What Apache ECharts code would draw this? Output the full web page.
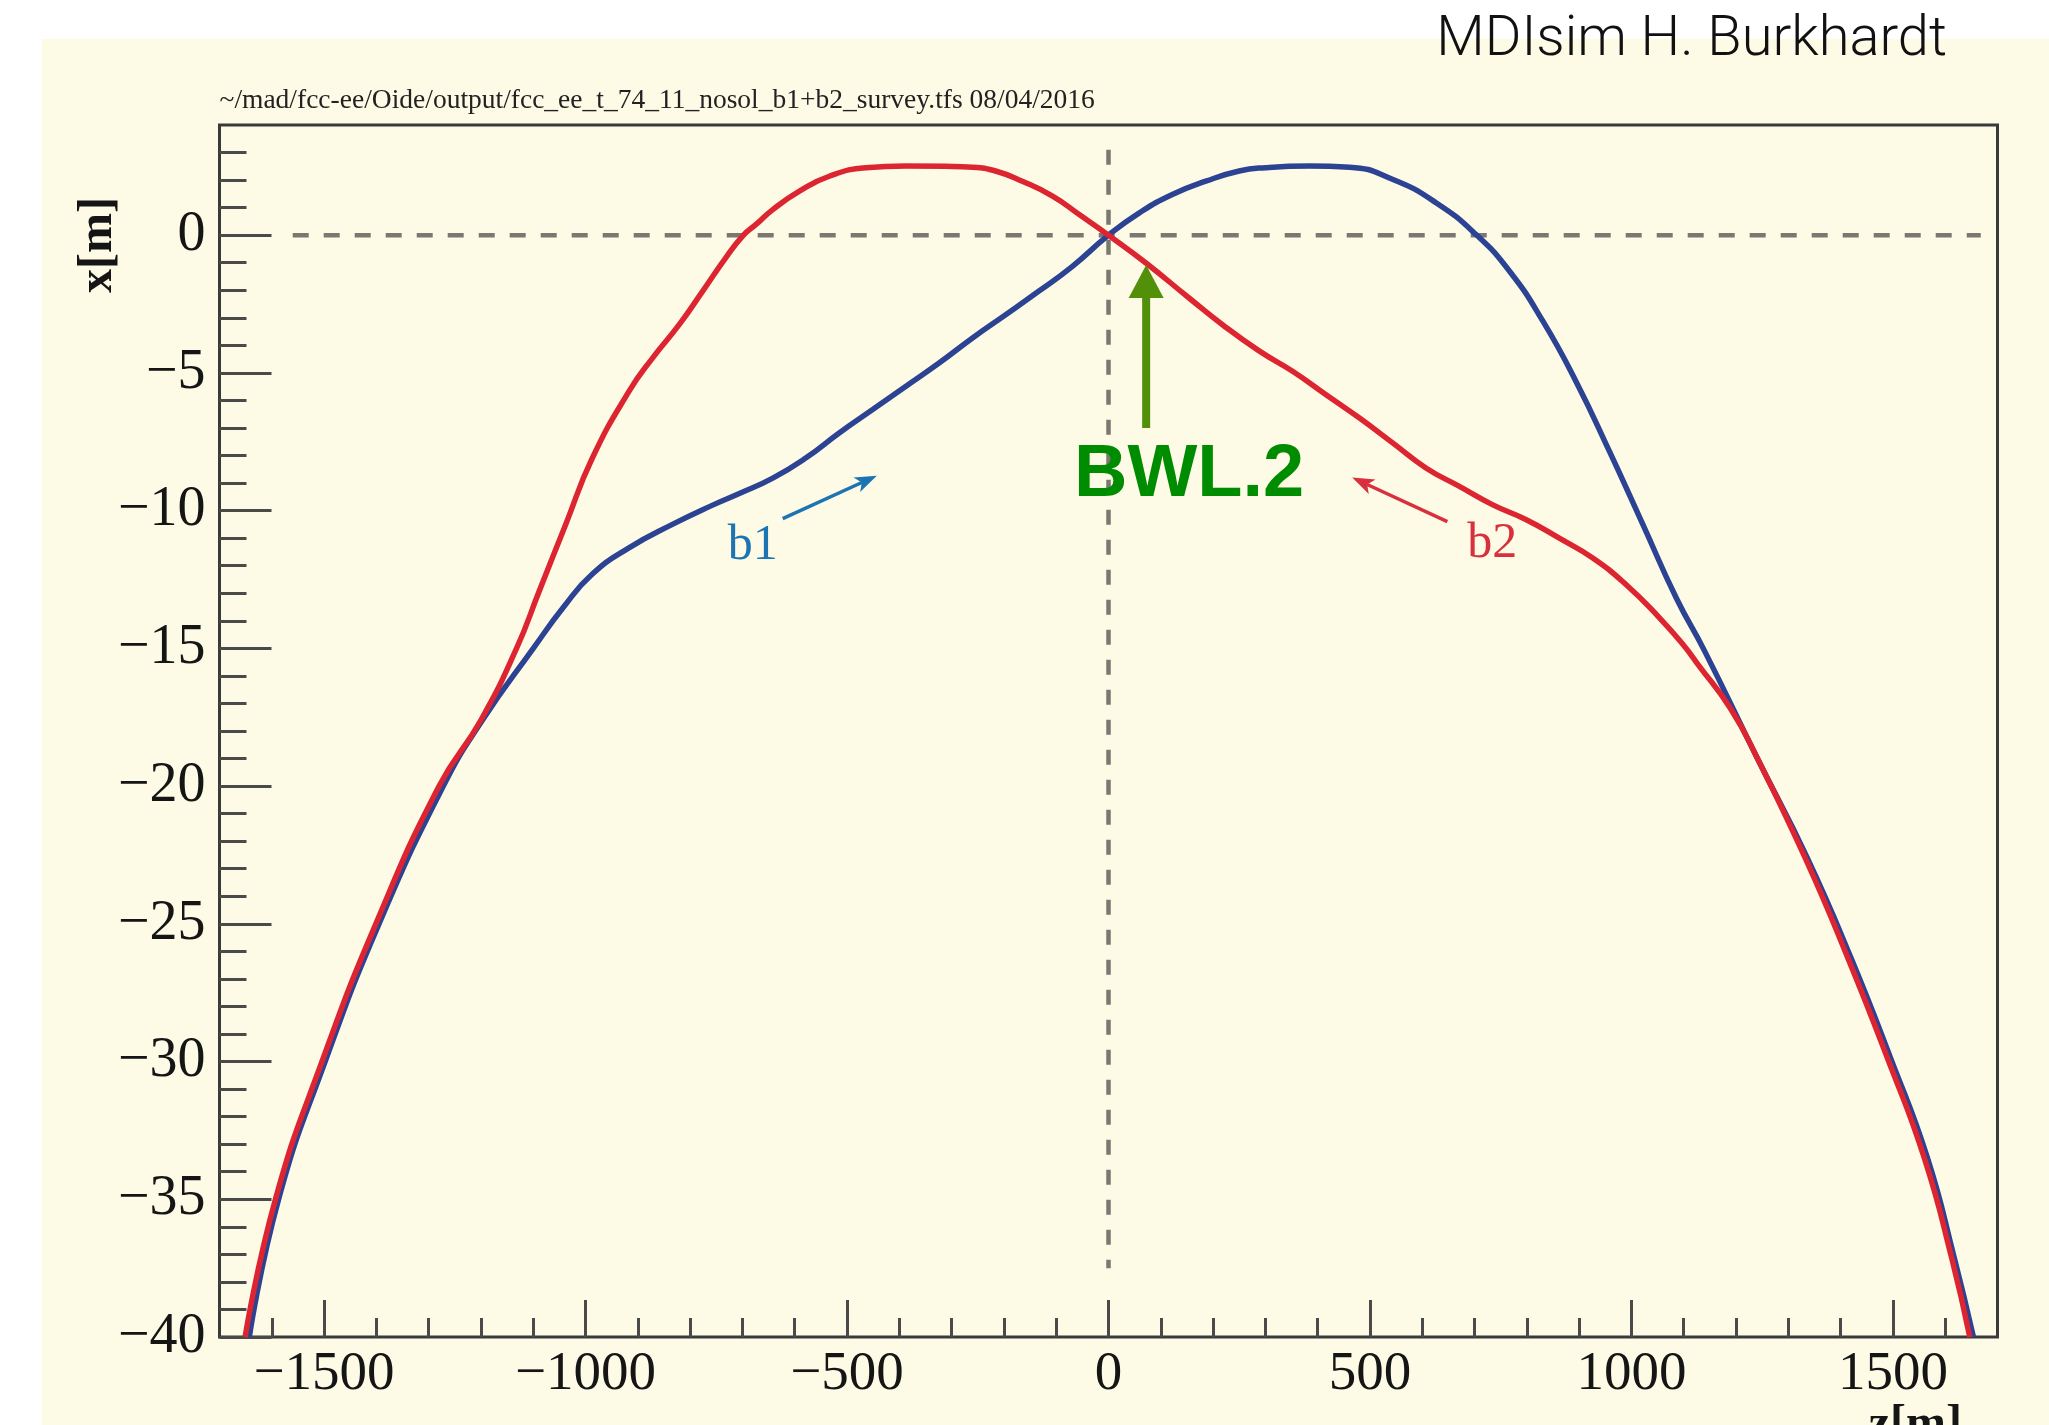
<!DOCTYPE html>
<html><head><meta charset="utf-8">
<script src="https://cdn.jsdelivr.net/npm/echarts@6/dist/echarts.min.js"></script>
<style>
html,body{margin:0;padding:0;background:#ffffff;overflow:hidden;}
#wrap{position:relative;width:2049px;height:1425px;background:#ffffff;}
#cream{position:absolute;left:42px;top:39px;right:0;bottom:0;background:#fdfae6;}
#c{position:absolute;left:0;top:0;width:2049px;height:1425px;}
</style>
</head><body>
<div id="wrap"><div id="cream"></div><div id="c"></div></div>
<script>
// ---- data ----
const b1 = [[-1643,-40],[-1587,-35],[-1498,-30],[-1395,-25],[-1272,-20],[-1197,-17.6],[-1100,-15],[-1042,-13.5],[-987,-12.3],[-917,-11.35],[-834,-10.5],[-757,-9.8],[-706,-9.38],[-642,-8.82],[-579,-8.09],[-515,-7.18],[-451,-6.33],[-388,-5.49],[-324,-4.64],[-260,-3.73],[-196,-2.88],[-133,-2.03],[-69,-1.13],[0,0],[59,0.81],[122,1.48],[186,1.96],[250,2.33],[300,2.45],[384,2.51],[461,2.47],[544,2.02],[627,1.17],[703,0.02],[767,-1.31],[831,-3.13],[894,-5.31],[958,-7.85],[1022,-10.51],[1086,-13.18],[1140,-15.1],[1241,-19.0],[1336,-22.6],[1419,-26.2],[1496,-29.9],[1566,-33.5],[1617,-37.1],[1654,-40]];
const b2 = [[-1651,-40],[-1593,-35],[-1504,-30],[-1401,-25],[-1280,-20],[-1200,-17.6],[-1132,-15],[-1089,-12.94],[-1038,-10.5],[-987,-8.09],[-917,-5.67],[-872,-4.46],[-821,-3.25],[-776,-2.03],[-732,-0.82],[-698,0],[-674,0.39],[-642,0.93],[-591,1.6],[-534,2.14],[-464,2.45],[-388,2.51],[-311,2.5],[-260,2.47],[-216,2.33],[-165,1.96],[-107,1.42],[-56,0.75],[0,0],[71,-1.0],[154,-2.28],[218,-3.25],[288,-4.2],[352,-4.94],[416,-5.79],[480,-6.64],[544,-7.55],[607,-8.45],[671,-9.12],[735,-9.79],[799,-10.33],[862,-11.0],[926,-11.72],[990,-12.69],[1054,-13.9],[1099,-14.87],[1126,-15.55],[1190,-17.2],[1241,-19.0],[1332,-22.6],[1413,-26.2],[1490,-29.9],[1560,-33.5],[1612,-37.1],[1647,-40]];
const zeroLineH = [[-1560,0],[1668,0]];
const zeroLineV = [[0,3.1],[0,-37.5]];
const xMajorTicks = [-1500,-1000,-500,0,500,1000,1500];
const xMinorTicks = [-1600,-1400,-1300,-1200,-1100,-900,-800,-700,-600,-400,-300,-200,-100,100,200,300,400,600,700,800,900,1100,1200,1300,1400,1600];
const yMajorTicks = [-40,-35,-30,-25,-20,-15,-10,-5,0];
const yMinorTicks = [3,2,1,-1,-2,-3,-4,-6,-7,-8,-9,-11,-12,-13,-14,-16,-17,-18,-19,-21,-22,-23,-24,-26,-27,-28,-29,-31,-32,-33,-34,-36,-37,-38,-39];
const fileTitle = '~/mad/fcc-ee/Oide/output/fcc_ee_t_74_11_nosol_b1+b2_survey.tfs 08/04/2016';
const authorText = 'MDIsim H. Burkhardt';
const yTitle = 'x[m]';
const xTitle = 'z[m]';
const b1Label = 'b1', b2Label = 'b2', bwlLabel = 'BWL.2';

// annotation anchors (data coordinates)
const b1ArrowFrom = [-623,-10.29], b1ArrowTo = [-443,-8.73];
const b2ArrowFrom = [648,-10.4], b2ArrowTo = [466,-8.8];
const bwlArrowFrom = [72,-7.0], bwlArrowTo = [72,-1.08];
const b1LabelAt = [-728,-12.18], b2LabelAt = [686,-12.1], bwlLabelAt = [-66,-10.07];

const minus = v => String(v).replace('-', '\u2212');
const tickColor = '#4a4a48';
const noLine = {show:false, onZero:false};

const chart = echarts.init(document.getElementById('c'), null, {renderer:'canvas'});
const option = {
  animation:false,
  backgroundColor:'transparent',
  grid:{left:219.5, right:51.5, top:125, bottom:88, show:true, borderColor:'#3a3a3a', borderWidth:3, backgroundColor:'#fdfae6'},
  xAxis:[
    {type:'value', min:-1700, max:1700, position:'bottom',
     axisLine:noLine, splitLine:{show:false},
     axisTick:{show:true, inside:true, length:37, customValues:xMajorTicks, lineStyle:{color:tickColor, width:3}},
     axisLabel:{show:true, customValues:xMajorTicks, formatter:minus, fontFamily:'Liberation Serif', fontSize:55, color:'#151515', margin:10}},
    {type:'value', min:-1700, max:1700, position:'bottom',
     axisLine:noLine, splitLine:{show:false},
     axisTick:{show:true, inside:true, length:19, customValues:xMinorTicks, lineStyle:{color:tickColor, width:3}},
     axisLabel:{show:false}}
  ],
  yAxis:[
    {type:'value', min:-40, max:4, position:'left',
     axisLine:noLine, splitLine:{show:false},
     axisTick:{show:true, inside:true, length:52, customValues:yMajorTicks, lineStyle:{color:tickColor, width:3}},
     axisLabel:{show:true, customValues:yMajorTicks, formatter:minus, fontFamily:'Liberation Serif', fontSize:56, color:'#151515', margin:14}},
    {type:'value', min:-40, max:4, position:'left',
     axisLine:noLine, splitLine:{show:false},
     axisTick:{show:true, inside:true, length:27, customValues:yMinorTicks, lineStyle:{color:tickColor, width:3}},
     axisLabel:{show:false}}
  ],
  series:[
    {type:'line', name:'zeroH', data:zeroLineH, showSymbol:false, symbol:'none', z:2,
     lineStyle:{color:'#7a7870', width:4.5, type:[16,15]}},
    {type:'line', name:'zeroV', data:zeroLineV, showSymbol:false, symbol:'none', z:2,
     lineStyle:{color:'#7a7870', width:4.5, type:[15,15]}},
    {type:'line', name:'b1', data:b1, showSymbol:false, symbol:'none', smooth:0.5, z:3,
     lineStyle:{color:'#2c4293', width:5.5}},
    {type:'line', name:'b2', data:b2, showSymbol:false, symbol:'none', smooth:0.5, z:4,
     lineStyle:{color:'#dc2530', width:5.5}}
  ]
};
chart.setOption(option);

const P = v => chart.convertToPixel({xAxisIndex:0, yAxisIndex:0}, v);
function arrow(fromD, toD, color, shaftW, headL, headW, notch){
  const a = P(fromD), b = P(toD);
  const dx = b[0]-a[0], dy = b[1]-a[1];
  const L = Math.sqrt(dx*dx+dy*dy), ux = dx/L, uy = dy/L, nx = -uy, ny = ux;
  const base = [b[0]-ux*headL, b[1]-uy*headL];
  const inner = [b[0]-ux*headL*(1-notch), b[1]-uy*headL*(1-notch)];
  return [
    {type:'line', z:20, shape:{x1:a[0], y1:a[1], x2:inner[0], y2:inner[1]}, style:{stroke:color, lineWidth:shaftW}},
    {type:'polygon', z:21, shape:{points:[b, [base[0]+nx*headW/2, base[1]+ny*headW/2], inner, [base[0]-nx*headW/2, base[1]-ny*headW/2]]}, style:{fill:color}}
  ];
}
const tb1 = P(b1LabelAt), tb2 = P(b2LabelAt), tbw = P(bwlLabelAt);
const graphic = [].concat(
  arrow(b1ArrowFrom, b1ArrowTo, '#1c74b2', 3.5, 22, 16, 0.25),
  arrow(b2ArrowFrom, b2ArrowTo, '#d8303c', 3.5, 22, 16, 0.25),
  arrow(bwlArrowFrom, bwlArrowTo, '#52900a', 8, 33, 35, 0),
  [
    {type:'text', z:22, x:tb1[0], y:tb1[1], style:{text:b1Label, fill:'#1c74b2', font:'50px "Liberation Serif"', align:'left', verticalAlign:'bottom'}},
    {type:'text', z:22, x:tb2[0], y:tb2[1], style:{text:b2Label, fill:'#d8303c', font:'50px "Liberation Serif"', align:'left', verticalAlign:'bottom'}},
    {type:'text', z:22, x:tbw[0], y:tbw[1], style:{text:bwlLabel, fill:'#008c00', font:'bold 74px "Liberation Sans"', align:'left', verticalAlign:'bottom'}},
    {type:'text', z:22, x:219.5, y:101, style:{text:fileTitle, fill:'#222', font:'27.5px "Liberation Serif"', align:'left', verticalAlign:'middle'}},
    {type:'text', z:22, x:1947, y:41, style:{text:authorText, fill:'#111', font:'300 56px Roboto', align:'right', verticalAlign:'middle'}},
    {type:'text', z:22, x:99, y:245, rotation:Math.PI/2, style:{text:yTitle, fill:'#151515', font:'bold 48px "Liberation Serif"', align:'center', verticalAlign:'middle'}},
    {type:'text', z:22, x:1962, y:1402, style:{text:xTitle, fill:'#151515', font:'bold 48px "Liberation Serif"', align:'right', verticalAlign:'top'}}
  ]
);
chart.setOption({graphic: graphic});
</script>
</body></html>
